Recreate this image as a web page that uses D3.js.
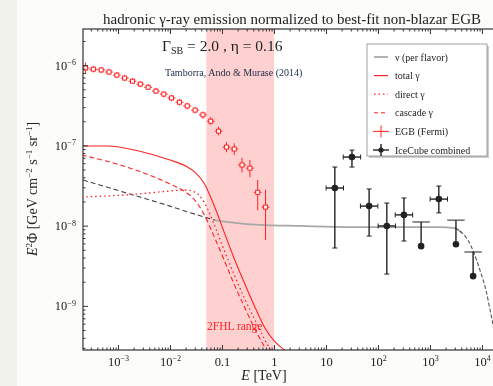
<!DOCTYPE html>
<html>
<head>
<meta charset="utf-8">
<script src="https://cdn.jsdelivr.net/npm/d3@7"></script>
<style>
  body { margin: 0; background: #f3f3ee; }
  svg { display: block; font-family: "Liberation Serif", "DejaVu Serif", serif; }
</style>
</head>
<body>
<svg width="493" height="386"></svg>
<script>
// ---- data (E in TeV, flux in GeV cm^-2 s^-1 sr^-1) ----
var egbE    = [2.38e-4, 3.36e-4, 4.75e-4, 6.72e-4, 9.5e-4, 1.34e-3, 1.9e-3, 2.69e-3, 3.8e-3, 5.37e-3, 7.6e-3, 1.07e-2,
               1.52e-2, 2.15e-2, 3.04e-2, 4.3e-2, 6.08e-2, 8.6e-2, 0.122, 0.172, 0.243, 0.344, 0.486, 0.688];
var egbFlux = [9.2e-7, 8.9e-7, 8.7e-7, 8.2e-7, 7.5e-7, 6.9e-7, 6.3e-7, 5.8e-7, 5.3e-7, 4.75e-7, 4.35e-7, 3.9e-7,
               3.45e-7, 3.1e-7, 2.75e-7, 2.4e-7, 2.0e-7, 1.5e-7, 9.5e-8, 9.0e-8, 5.7e-8, 5.2e-8, 2.6e-8, 1.7e-8];
var egbLo   = [7.7e-7, 8.1e-7, 7.9e-7, 7.5e-7, 6.9e-7, 6.3e-7, 5.8e-7, 5.3e-7, 4.9e-7, 4.35e-7, 3.95e-7, 3.55e-7,
               3.15e-7, 2.8e-7, 2.5e-7, 2.15e-7, 1.8e-7, 1.33e-7, 8.2e-8, 7.6e-8, 4.6e-8, 4.0e-8, 1.56e-8, 6.6e-9];
var egbHi   = [1.08e-6, 9.8e-7, 9.5e-7, 9.0e-7, 8.2e-7, 7.5e-7, 6.9e-7, 6.3e-7, 5.8e-7, 5.2e-7, 4.75e-7, 4.25e-7,
               3.8e-7, 3.4e-7, 3.0e-7, 2.65e-7, 2.25e-7, 1.7e-7, 1.1e-7, 1.06e-7, 7.0e-8, 6.6e-8, 3.7e-8, 2.8e-8];
var egbBinFactor = 1.19;

var icE    = [14.8, 31.6, 67.6, 148, 316, 676, 1480, 3160, 6760];
var icFlux = [2.94e-8, 7.15e-8, 1.75e-8, 9.9e-9, 1.36e-8, 1.11e-8, 2.14e-8, 1.17e-8, 4.69e-9];
var icLo   = [5.26e-9, 5.37e-8, 7.4e-9, 2.49e-9, 6.43e-9, null, 1.44e-8, null, null];
var icHi   = [5.37e-8, 8.73e-8, 2.86e-8, 1.91e-8, 2.21e-8, null, 3.11e-8, null, null];
var icUpperLimit = [false, false, false, false, false, true, false, true, true];
var icBinFactor = 1.47;

var gammaE       = [2e-4, 6e-4, 2.5e-3, 0.01, 0.02, 0.03, 0.045, 0.07, 0.11, 0.17, 0.27, 0.43, 0.67, 1.05, 1.6, 2.5];
var totalGamma   = [9.8e-8, 9.8e-8, 8.5e-8, 6.56e-8, 5.52e-8, 4.65e-8, 3.4e-8, 1.81e-8, 8.3e-9, 3.95e-9, 1.93e-9, 9.7e-10, 5.3e-10, 3.55e-10, 2.8e-10, 2.1e-10];
var cascadeGamma = [7.57e-8, 6.37e-8, 4.78e-8, 3.3e-8, 2.62e-8, 2.08e-8, 1.39e-8, 7.4e-9, 3.73e-9, 1.88e-9, 9.7e-10, 5.15e-10, 3.0e-10, 1.84e-10, 1.2e-10, 8e-11];
var directGamma  = [2.27e-8, 2.34e-8, 2.48e-8, 2.7e-8, 2.78e-8, 2.62e-8, 1.97e-8, 1.05e-8, 4.97e-9, 2.49e-9, 1.25e-9, 6.7e-10, 3.76e-10, 2.24e-10, 1.4e-10, 9e-11];

var nuE    = [2.12e-4, 7.0e-4, 2.65e-3, 0.01, 0.03, 0.073, 0.178, 0.54, 3.16, 29, 265, 1550, 3020, 4120, 5370, 7020, 9120, 1.19e4, 1.43e4, 1.7e4, 1.95e4];
var nuFlux = [3.7e-8, 2.94e-8, 2.27e-8, 1.75e-8, 1.39e-8, 1.17e-8, 1.08e-8, 1.02e-8, 9.9e-9, 9.6e-9, 9.6e-9, 9.6e-9, 9.3e-9, 8.1e-9, 6.6e-9, 4.56e-9, 2.8e-9, 1.58e-9, 8.9e-10, 5.0e-10, 2.8e-10];
var nuSolidFrom = 0.07, nuSolidTo = 5000;

var band = [0.05, 1];

var xTicks = [1e-3, 1e-2, 0.1, 1, 10, 1e2, 1e3, 1e4];
var xTickText = ["10^−3", "10^−2", "0.1", "1", "10", "10^2", "10^3", "10^4"];
var yTicks = [1e-9, 1e-8, 1e-7, 1e-6];
var yTickText = ["10^−9", "10^−8", "10^−7", "10^−6"];

var legendLabels = ["ν (per flavor)", "total γ", "direct γ", "cascade γ", "EGB (Fermi)", "IceCube combined"];
// ---- end of data ----

var svg = d3.select("svg"),
    width = +svg.attr("width"),
    height = +svg.attr("height"),
    plotL = 83, plotR = 496, plotT = 29, plotB = 350,
    red = "#f22";

var x = d3.scaleLog()
          .domain([Math.pow(10, -3.673), Math.pow(10, 4.27)])
          .range([plotL, plotR]);
var y = d3.scaleLog()
          .domain([Math.pow(10, -9.55), Math.pow(10, -5.55)])
          .range([plotB, plotT]);

var defs = svg.append("defs");
defs.append("clipPath").attr("id", "plot")
  .append("rect").attr("x", plotL).attr("y", plotT).attr("width", plotR - plotL).attr("height", plotB - plotT);
defs.append("filter").attr("id", "soft").attr("x", "-5%").attr("y", "-5%").attr("width", "110%").attr("height", "110%")
  .append("feGaussianBlur").attr("stdDeviation", 0.45);

svg.append("rect").attr("width", width).attr("height", height).attr("fill", "#f2f2ec");
svg.append("rect").attr("x", 17).attr("width", width - 17).attr("height", height).attr("fill", "#fcfcfa");

var root = svg.append("g").attr("filter", "url(#soft)");
var plot = root.append("g").attr("clip-path", "url(#plot)");

plot.append("rect").attr("x", plotL).attr("y", plotT).attr("width", plotR - plotL).attr("height", plotB - plotT).attr("fill", "#fff");
plot.append("rect")
  .attr("x", x(band[0])).attr("y", plotT)
  .attr("width", x(band[1]) - x(band[0])).attr("height", plotB - plotT)
  .attr("fill", "#ffd0d0");

var line = d3.line()
             .x(function(d) { return x(d[0]); })
             .y(function(d) { return y(d[1]); })
             .curve(d3.curveMonotoneX);

function pairs(xs, ys) { return xs.map(function(v, i) { return [v, ys[i]]; }); }

// neutrino flux
var nuPts = pairs(nuE, nuFlux);
plot.append("path").datum(nuPts.filter(function(d) { return d[0] <= nuSolidFrom * 1.1; }))
  .attr("d", line).attr("fill", "none").attr("stroke", "#444").attr("stroke-width", 1.1).attr("stroke-dasharray", "5,3");
plot.append("path").datum(nuPts.filter(function(d) { return d[0] >= nuSolidFrom && d[0] <= nuSolidTo; }))
  .attr("d", line).attr("fill", "none").attr("stroke", "#a8a8a8").attr("stroke-width", 1.8);
plot.append("path").datum(nuPts.filter(function(d) { return d[0] >= 3000; }))
  .attr("d", line).attr("fill", "none").attr("stroke", "#555").attr("stroke-width", 1.1).attr("stroke-dasharray", "4,2");

// gamma curves
plot.append("path").datum(pairs(gammaE, totalGamma))
  .attr("d", line).attr("fill", "none").attr("stroke", red).attr("stroke-width", 1.1);
plot.append("path").datum(pairs(gammaE, cascadeGamma))
  .attr("d", line).attr("fill", "none").attr("stroke", red).attr("stroke-width", 1.1).attr("stroke-dasharray", "5,3");
plot.append("path").datum(pairs(gammaE, directGamma))
  .attr("d", line).attr("fill", "none").attr("stroke", red).attr("stroke-width", 1.3).attr("stroke-dasharray", "1.5,3");

// Fermi EGB points
var egb = plot.append("g").attr("stroke", red).attr("stroke-width", 1).attr("fill", "none")
  .selectAll("g").data(egbE).enter().append("g");
egb.append("line")
  .attr("x1", function(d) { return x(d / egbBinFactor); }).attr("x2", function(d) { return x(d * egbBinFactor); })
  .attr("y1", function(d, i) { return y(egbFlux[i]); }).attr("y2", function(d, i) { return y(egbFlux[i]); });
egb.append("line")
  .attr("x1", function(d) { return x(d); }).attr("x2", function(d) { return x(d); })
  .attr("y1", function(d, i) { return y(egbLo[i]); }).attr("y2", function(d, i) { return y(egbHi[i]); });
egb.append("rect")
  .attr("x", function(d) { return x(d) - 2; }).attr("y", function(d, i) { return y(egbFlux[i]) - 2; })
  .attr("width", 4).attr("height", 4).attr("fill", "#fff");

// IceCube points
var ic = plot.append("g").attr("stroke", "#222").attr("stroke-width", 1.4)
  .selectAll("g").data(icE).enter().append("g");
ic.each(function(d, i) {
  var g = d3.select(this), cx = x(d), cy = y(icFlux[i]);
  if (icUpperLimit[i]) {
    g.append("line").attr("x1", x(d / icBinFactor)).attr("x2", x(d * icBinFactor)).attr("y1", cy).attr("y2", cy).attr("stroke-width", 1);
    g.append("line").attr("x1", cx).attr("x2", cx).attr("y1", cy).attr("y2", y(icFlux[i] / 2));
    g.append("circle").attr("cx", cx).attr("cy", y(icFlux[i] / 2)).attr("r", 2.6).attr("fill", "#222");
  } else {
    g.append("line").attr("x1", x(d / icBinFactor)).attr("x2", x(d * icBinFactor)).attr("y1", cy).attr("y2", cy);
    g.append("line").attr("x1", cx).attr("x2", cx).attr("y1", y(icLo[i])).attr("y2", y(icHi[i]));
    [y(icLo[i]), y(icHi[i])].forEach(function(v) {
      g.append("line").attr("x1", cx - 2.5).attr("x2", cx + 2.5).attr("y1", v).attr("y2", v).attr("stroke-width", 1);
    });
    [x(d / icBinFactor), x(d * icBinFactor)].forEach(function(v) {
      g.append("line").attr("x1", v).attr("x2", v).attr("y1", cy - 2.5).attr("y2", cy + 2.5).attr("stroke-width", 1);
    });
    g.append("circle").attr("cx", cx).attr("cy", cy).attr("r", 2.6).attr("fill", "#222");
  }
});

// axes
function sup(sel, s) {
  var parts = s.split("^");
  sel.text(parts[0]);
  if (parts[1]) sel.append("tspan").attr("dy", "-0.55em").attr("font-size", "0.65em").text(parts[1]);
}

var xMinor = [], yMinor = [];
for (var k = -4; k <= 4; k++) for (var m = 2; m < 10; m++) xMinor.push(m * Math.pow(10, k));
for (var k = -10; k <= -6; k++) for (var m = 2; m < 10; m++) yMinor.push(m * Math.pow(10, k));
xMinor = xMinor.filter(function(v) { return x(v) > plotL && x(v) < plotR; });
yMinor = yMinor.filter(function(v) { return y(v) > plotT && y(v) < plotB; });

var axes = root.append("g");
function addAxis(axis, tx, ty, vals, size, labels) {
  var g = axes.append("g").attr("transform", "translate(" + tx + "," + ty + ")")
    .call(axis.tickValues(vals).tickSizeInner(size).tickSizeOuter(0).tickPadding(7).tickFormat(function() { return ""; }));
  g.select(".domain").remove();
  g.selectAll(".tick line").attr("stroke", "#333");
  g.selectAll(".tick text").attr("font-size", 12.5).attr("fill", "#222").attr("font-family", "Liberation Serif, serif");
  if (labels) g.selectAll(".tick text").each(function(d, i) { sup(d3.select(this), labels[i]); });
  return g;
}
addAxis(d3.axisBottom(x), 0, plotB, xTicks, -5, xTickText);
addAxis(d3.axisBottom(x), 0, plotB, xMinor, -2.5);
addAxis(d3.axisTop(x), 0, plotT, xTicks, -5);
addAxis(d3.axisTop(x), 0, plotT, xMinor, -2.5);
addAxis(d3.axisLeft(y), plotL, 0, yTicks, -5, yTickText);
addAxis(d3.axisLeft(y), plotL, 0, yMinor, -2.5);

root.append("rect").attr("x", plotL).attr("y", plotT).attr("width", plotR - plotL).attr("height", plotB - plotT)
  .attr("fill", "none").attr("stroke", "#333").attr("stroke-width", 1.2);

// texts
root.append("text").attr("x", 292).attr("y", 24).attr("text-anchor", "middle")
  .attr("font-size", 14).attr("fill", "#222")
  .attr("textLength", 378).attr("lengthAdjust", "spacingAndGlyphs")
  .text("hadronic γ-ray emission normalized to best-fit non-blazar EGB");

var param = root.append("text").attr("x", 162).attr("y", 51).attr("font-size", 15.5).attr("fill", "#222");
param.append("tspan").text("Γ");
param.append("tspan").attr("dy", 3).attr("font-size", 10).text("SB");
param.append("tspan").attr("dy", -3).text(" = 2.0 , η = 0.16");

root.append("text").attr("x", 165).attr("y", 76).attr("font-size", 10).attr("fill", "#1c2a48")
  .text("Tamborra, Ando & Murase (2014)");

root.append("text").attr("x", 207).attr("y", 330).attr("font-size", 11.5).attr("fill", red)
  .text("2FHL range");

var xl = root.append("text").attr("x", 264).attr("y", 380).attr("text-anchor", "middle").attr("font-size", 14).attr("fill", "#222");
xl.append("tspan").attr("font-style", "italic").text("E");
xl.append("tspan").text(" [TeV]");

var yl = root.append("text").attr("transform", "translate(37,189) rotate(-90)").attr("text-anchor", "middle")
  .attr("font-size", 14).attr("fill", "#222");
yl.append("tspan").attr("font-style", "italic").text("E");
yl.append("tspan").attr("dy", -5).attr("font-size", 9).text("2");
yl.append("tspan").attr("dy", 5).text("Φ  [GeV cm");
yl.append("tspan").attr("dy", -5).attr("font-size", 9).text("−2");
yl.append("tspan").attr("dy", 5).text(" s");
yl.append("tspan").attr("dy", -5).attr("font-size", 9).text("−1");
yl.append("tspan").attr("dy", 5).text(" sr");
yl.append("tspan").attr("dy", -5).attr("font-size", 9).text("−1");
yl.append("tspan").attr("dy", 5).text("]");

// legend
var lg = root.append("g").attr("transform", "translate(367,44)");
lg.append("rect").attr("x", 2).attr("y", 2).attr("width", 120).attr("height", 112).attr("fill", "#ccc");
lg.append("rect").attr("width", 120).attr("height", 112).attr("fill", "#fff").attr("stroke", "#888").attr("stroke-width", 0.8);
var rowY = function(i) { return 13 + i * 18.6; };
var items = lg.selectAll("g").data(legendLabels).enter().append("g")
  .attr("transform", function(d, i) { return "translate(0," + rowY(i) + ")"; });
items.append("text").attr("x", 28).attr("y", 3.5).attr("font-size", 10).attr("fill", "#222").text(function(d) { return d; });
items.each(function(d, i) {
  var g = d3.select(this);
  if (i === 0) g.append("line").attr("x1", 7).attr("x2", 21).attr("stroke", "#999").attr("stroke-width", 1.5);
  if (i === 1) g.append("line").attr("x1", 7).attr("x2", 21).attr("stroke", red).attr("stroke-width", 1.2);
  if (i === 2) g.append("line").attr("x1", 7).attr("x2", 21).attr("stroke", red).attr("stroke-width", 1.3).attr("stroke-dasharray", "1.5,3");
  if (i === 3) g.append("line").attr("x1", 7).attr("x2", 21).attr("stroke", red).attr("stroke-width", 1.1).attr("stroke-dasharray", "4,3");
  if (i === 4) {
    g.append("line").attr("x1", 6).attr("x2", 22).attr("stroke", red);
    g.append("line").attr("x1", 14).attr("x2", 14).attr("y1", -6).attr("y2", 6).attr("stroke", red);
  }
  if (i === 5) {
    g.append("line").attr("x1", 6).attr("x2", 22).attr("stroke", "#222").attr("stroke-width", 1.4);
    g.append("line").attr("x1", 14).attr("x2", 14).attr("y1", -6).attr("y2", 6).attr("stroke", "#222").attr("stroke-width", 1.4);
    g.append("circle").attr("cx", 14).attr("r", 2.6).attr("fill", "#222");
  }
});
</script>
</body>
</html>
